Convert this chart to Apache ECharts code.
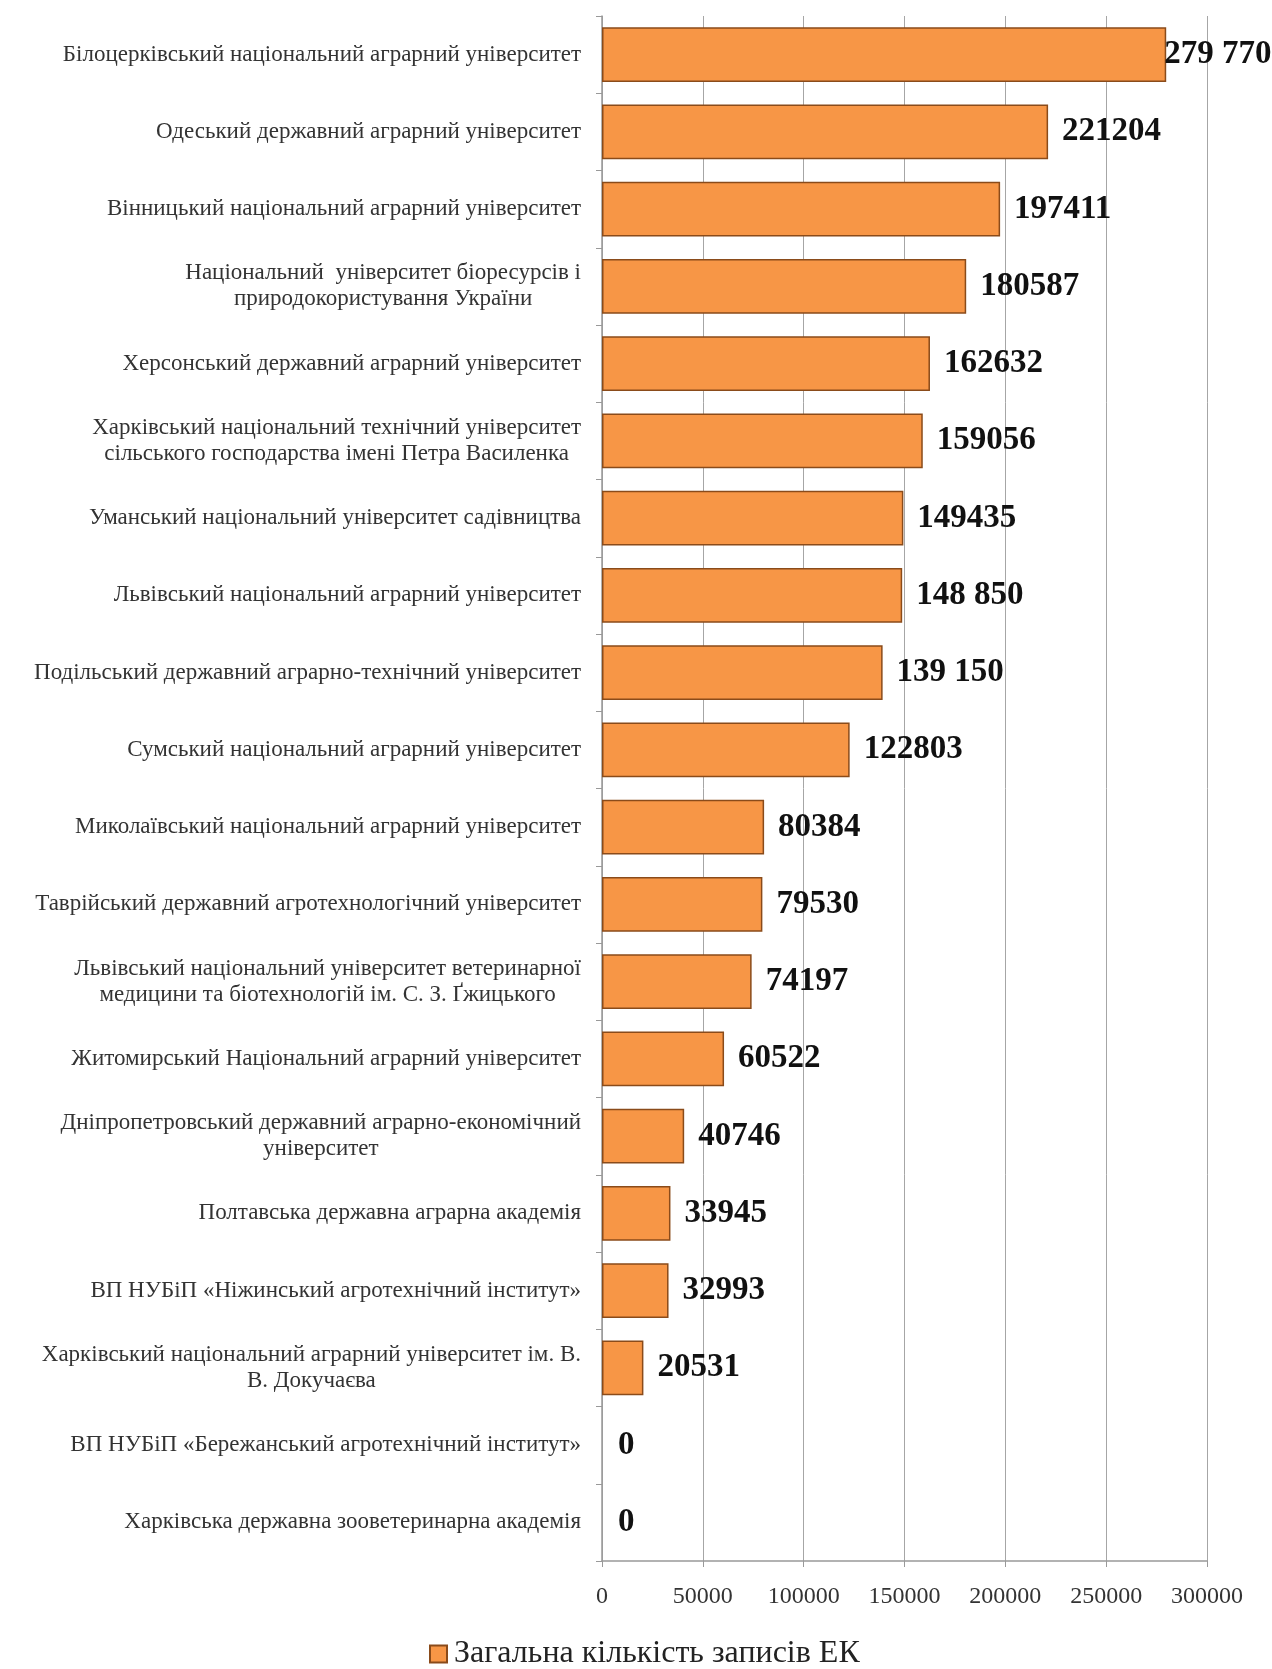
<!DOCTYPE html>
<html><head><meta charset="utf-8">
<script src="https://cdn.jsdelivr.net/npm/echarts@6/dist/echarts.min.js"></script>
<style>html,body{margin:0;padding:0;background:#fff}#c{width:1272px;height:1669px}</style>
</head><body><div id="c"></div>
<script>
const categories = [
  "Білоцерківський національний аграрний університет",
  "Одеський державний аграрний університет",
  "Вінницький національний аграрний університет",
  "Національний  університет біоресурсів і\nприродокористування України",
  "Херсонський державний аграрний університет",
  "Харківський національний технічний університет\nсільського господарства імені Петра Василенка",
  "Уманський національний університет садівництва",
  "Львівський національний аграрний університет",
  "Подільський державний аграрно-технічний університет",
  "Сумський національний аграрний університет",
  "Миколаївський національний аграрний університет",
  "Таврійський державний агротехнологічний університет",
  "Львівський національний університет ветеринарної\nмедицини та біотехнологій ім. С. З. Ґжицького",
  "Житомирський Національний аграрний університет",
  "Дніпропетровський державний аграрно-економічний\nуніверситет",
  "Полтавська державна аграрна академія",
  "ВП НУБіП «Ніжинський агротехнічний інститут»",
  "Харківський національний аграрний університет ім. В.\nВ. Докучаєва",
  "ВП НУБіП «Бережанський агротехнічний інститут»",
  "Харківська державна зооветеринарна академія"
];
const values = [279770, 221204, 197411, 180587, 162632, 159056, 149435, 148850, 139150, 122803,
  80384, 79530, 74197, 60522, 40746, 33945, 32993, 20531, 0, 0];
const valueLabels = ["279 770", "221204", "197411", "180587", "162632", "159056", "149435", "148 850", "139 150", "122803",
  "80384", "79530", "74197", "60522", "40746", "33945", "32993", "20531", "0", "0"];
const xMin = 0, xMax = 300000, xStep = 50000;
const seriesName = "Загальна кількість записів ЕК";

const chart = echarts.init(document.getElementById('c'), null, {renderer: 'canvas'});
const serif = "'Liberation Serif', 'Times New Roman', serif";
chart.setOption({
  backgroundColor: '#ffffff',
  animation: false,
  grid: {left: 602, right: 65, top: 16, bottom: 108, containLabel: false},
  legend: {
    top: 1633, left: 424,
    data: [seriesName],
    icon: 'rect', itemWidth: 17, itemHeight: 17, itemGap: 6,
    textStyle: {fontFamily: serif, fontSize: 32, color: '#222', padding: [0, 0, 0, 2]}
  },
  xAxis: {
    type: 'value', min: xMin, max: xMax, interval: xStep,
    axisLine: {show: true, lineStyle: {color: '#999', width: 1.5}},
    axisTick: {show: true, length: 6, lineStyle: {color: '#999'}},
    splitLine: {show: true, lineStyle: {color: '#a6a6a6', width: 1}},
    axisLabel: {fontFamily: serif, fontSize: 24, color: '#333', margin: 24, formatter: v => String(v)}
  },
  yAxis: {
    type: 'category', inverse: true, data: categories,
    axisLine: {show: true, lineStyle: {color: '#999', width: 1.5}},
    axisTick: {show: true, length: 6, lineStyle: {color: '#999'}},
    axisLabel: {
      fontFamily: serif, fontSize: 23, color: '#333', margin: 21, lineHeight: 26,
      formatter: v => v.split('\n').map(l => '{c|' + l + '}').join('\n'),
      rich: {c: {align: 'center', fontFamily: serif, fontSize: 23, color: '#333', lineHeight: 26}}
    }
  },
  series: [{
    name: seriesName, type: 'bar', barCategoryGap: '29%',
    itemStyle: {color: '#F79646', borderColor: '#8a4b1a', borderWidth: 1.5},
    label: {
      show: true, position: 'right', distance: 14,
      fontFamily: serif, fontSize: 33, fontWeight: 'bold', color: '#111',
      formatter: p => valueLabels[p.dataIndex]
    },
    data: values.map((v, i) => {
      if (i === 0) return {value: v, label: {distance: -2}};
      if (v === 0) return {value: v, itemStyle: {borderWidth: 0}, label: {distance: 16}};
      return v;
    })
  }]
});
</script></body></html>
